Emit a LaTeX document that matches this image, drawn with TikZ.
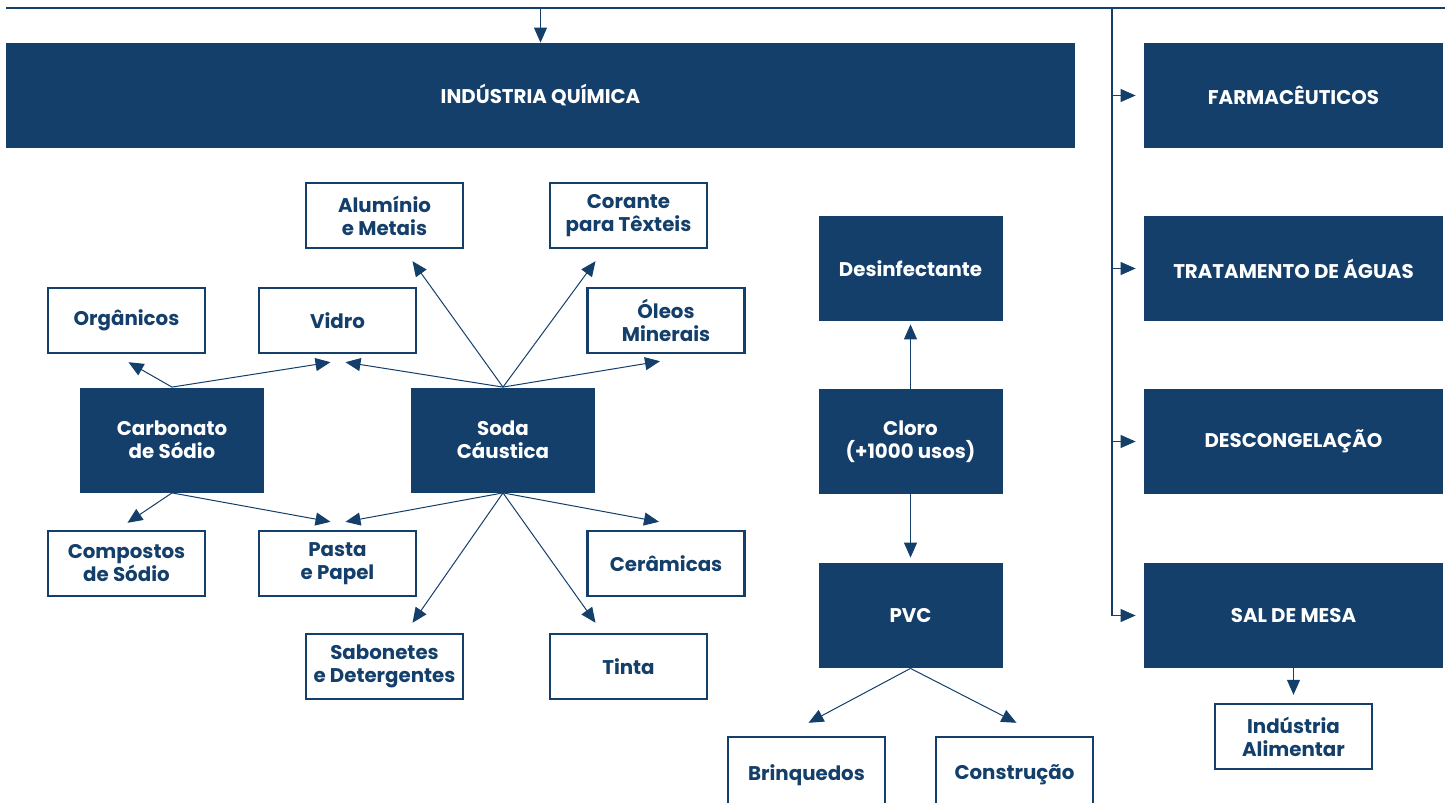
\documentclass[tikz,border=0pt]{standalone}
\usepackage{fontspec}
\setmainfont{Poppins}
\usepackage{tikz}
\usetikzlibrary
  {
    arrows.meta,              % filled triangle heads
    calc,                     % shifted arrow ends
  }

\definecolor{navy}{HTML}{133F6A}

\tikzset{
  txt/.style={font=\bfseries\fontsize{9.9}{11.5}\selectfont, align=center},
  main/.style={txt, fill=navy, text=white, inner sep=0pt,
    minimum width=92pt, minimum height=52.5pt},
  wide/.style={main, minimum width=149.5pt},
  use/.style={txt, draw=navy, line width=1.2pt, fill=white, text=navy,
    inner sep=0pt, minimum width=78.5pt, minimum height=32.5pt},
  bus/.style={draw=navy, line width=0.6pt},
  link/.style={draw=navy, line width=0.5pt, -{Triangle[length=7.5pt,width=6.5pt]}},
}

\begin{document}
\begin{tikzpicture}[x=0.5pt, y=-0.5pt]
  \useasboundingbox (0,0) rectangle (1451,803);

  % top level
  \node [main, minimum width=534.5pt] (quim) at (540.5,95.5) {INDÚSTRIA QUÍMICA};
  \node [wide] (farma) at (1293.5,95.5)  {FARMACÊUTICOS};
  \node [wide] (agua)  at (1293.5,268.5) {TRATAMENTO DE ÁGUAS};
  \node [wide] (desc)  at (1293.5,441.5) {DESCONGELAÇÃO};
  \node [wide] (sal)   at (1293.5,615.5) {SAL DE MESA};
  \node [use]  (alim)  at (1293.5,736.5) {Indústria\\Alimentar};

  % chlorine column
  \node [main] (desinf) at (910.5,268.5) {Desinfectante};
  \node [main] (cloro)  at (910.5,441.5) {Cloro\\(+1000 usos)};
  \node [main] (pvc)    at (910.5,615.5) {PVC};
  \node [use, minimum height=38pt] (brinq)  at (806.5,775) {Brinquedos};
  \node [use, minimum height=38pt] (constr) at (1014.5,775) {Construção};

  % sodium compounds
  \node [main] (carb) at (172,440) {Carbonato\\de Sódio};
  \node [main] (soda) at (503,440) {Soda\\Cáustica};

  \node [use] (org)     at (126.5,320.5) {Orgânicos};
  \node [use] (vidro)   at (337.5,320.5) {Vidro};
  \node [use] (alum)    at (384.5,215.5) {Alumínio\\e Metais};
  \node [use] (corante) at (628.5,215.5) {Corante\\para Têxteis};
  \node [use] (oleos)   at (666,320.5)   {Óleos\\Minerais};
  \node [use] (comp)    at (126.5,563.5) {Compostos\\de Sódio};
  \node [use] (pasta)   at (337.5,563.5) {Pasta\\e Papel};
  \node [use] (ceram)   at (666,563.5)   {Cerâmicas};
  \node [use] (sabon)   at (384.5,666.5) {Sabonetes\\e Detergentes};
  \node [use] (tinta)   at (628.5,666.5) {Tinta};

  % bus line on top
  \coordinate (topl)  at (6,8);
  \coordinate (topr)  at (1445,8);
  \coordinate (trunk) at (1112,8);

  \draw [bus] (topl) -- (topr);
  \draw [link] (quim.north |- topl) -- (quim.north);
  \draw [bus] (trunk) -- (trunk |- sal.west);
  \foreach \n in {farma,agua,desc,sal}
    \draw [link] (trunk |- \n.west) -- ($(\n.west)+(-8,0)$);
  \draw [link] (sal.south) -- ($(alim.north)+(0,-8)$);

  \draw [link] (cloro.north) -- ($(desinf.south)+(0,3)$);
  \draw [link] (cloro.south) -- ($(pvc.north)+(0,-5)$);
  \draw [link] (pvc.south) -- ($(brinq.north)+(2,-13)$);
  \draw [link] (pvc.south) -- ($(constr.north)+(2,-13)$);

  % carbonate
  \draw [link] (carb.north) -- ($(org.south)+(2,8)$);
  \draw [link] (carb.north) -- ($(vidro.south)+(-7,8)$);
  \draw [link] (carb.south) -- ($(comp.north)+(1,-7)$);
  \draw [link] (carb.south) -- ($(pasta.north)+(-7,-8)$);

  % caustic soda
  \draw [link] (soda.north) -- ($(vidro.south)+(8,8)$);
  \draw [link] (soda.north) -- ($(alum.south)+(28,12)$);
  \draw [link] (soda.north) -- ($(corante.south)+(-33,12)$);
  \draw [link] (soda.north) -- ($(oleos.south)+(-6,7)$);
  \draw [link] (soda.south) -- ($(pasta.north)+(8,-8)$);
  \draw [link] (soda.south) -- ($(ceram.north)+(-7,-8)$);
  \draw [link] (soda.south) -- ($(sabon.north)+(28,-10)$);
  \draw [link] (soda.south) -- ($(tinta.north)+(-33,-10)$);
\end{tikzpicture}
\end{document}
